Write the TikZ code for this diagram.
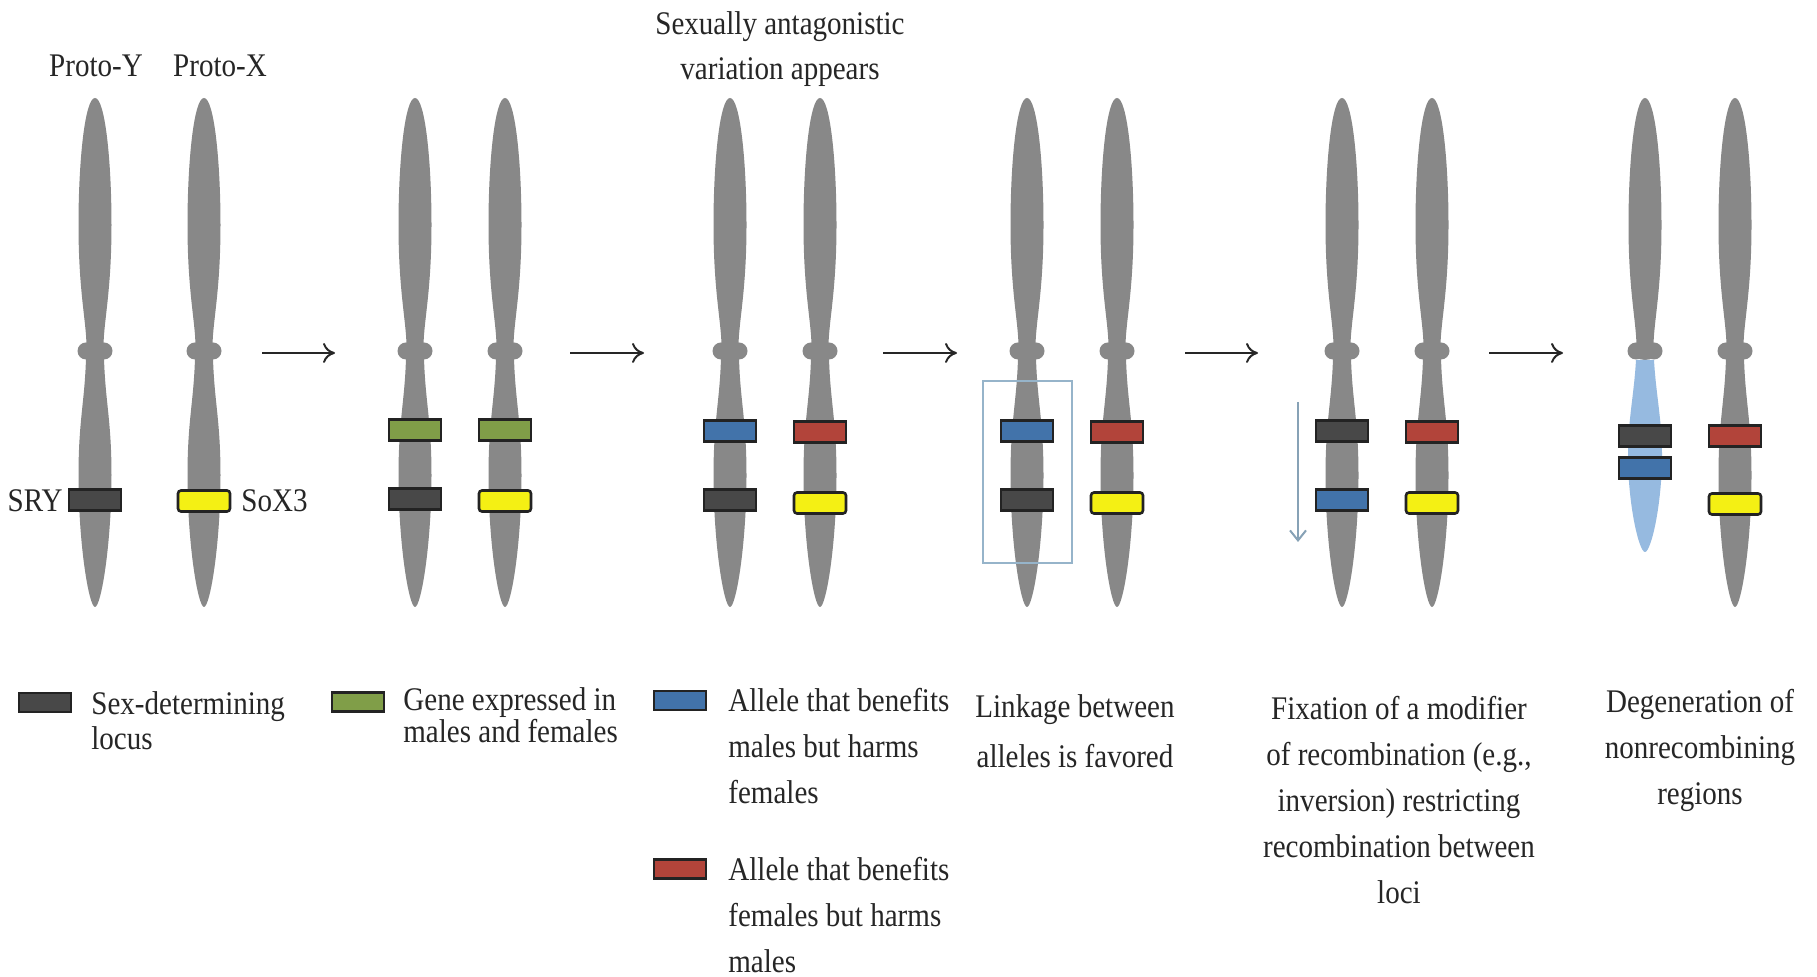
\documentclass[tikz,border=0pt]{standalone}
\usepackage{fontspec}
\setmainfont[FakeStretch=0.88]{Liberation Serif}
\usetikzlibrary{arrows.meta}

\definecolor{chromgray}{RGB}{136,136,136}
\definecolor{locusdark}{RGB}{72,72,72}
\definecolor{edgedark}{RGB}{35,35,35}
\definecolor{allelblue}{RGB}{66,115,170}
\definecolor{allelred}{RGB}{178,68,58}
\definecolor{genegreen}{RGB}{128,158,72}
\definecolor{soxyellow}{RGB}{244,240,20}
\definecolor{degenblue}{RGB}{150,186,224}
\definecolor{linkblue}{RGB}{150,180,202}
\definecolor{txtgray}{RGB}{38,38,38}

\tikzset{
  % upper arm and centromere of a chromosome, centred on x = 0
  pics/chromtop/.style={code={
    \fill[chromgray] (0,98) .. controls (10,98) and (16.5,160) .. (16.5,225)
       .. controls (16.5,290) and (9,320) .. (8.5,345) -- (-8.5,345)
       .. controls (-9,320) and (-16.5,290) .. (-16.5,225)
       .. controls (-16.5,160) and (-10,98) .. (0,98) -- cycle;
    \fill[chromgray] (-9,351) circle[radius=4.25pt] (9,351) circle[radius=4.25pt];
    \fill[chromgray] (0,351) ellipse[x radius=6pt, y radius=4.5pt];
  }},
  % lower arm
  pics/chromlow/.style={code={
    \fill[#1] (9,357) .. controls (10,400) and (16.5,420) .. (16.5,475)
       .. controls (16.5,545) and (6,607) .. (0,607)
       .. controls (-6,607) and (-16.5,545) .. (-16.5,475)
       .. controls (-16.5,420) and (-10,400) .. (-9,357) -- cycle;
  }},
  pics/chromlow/.default=chromgray,
  gene/.style={draw=edgedark, line width=1.3pt, minimum width=26pt,
    minimum height=10.5pt, inner sep=0pt},
  keybox/.style={draw=edgedark, line width=1.1pt, minimum width=26pt,
    minimum height=9.5pt, inner sep=0pt},
  lbl/.style={font=\fontsize{16.5pt}{23pt}\selectfont, text=txtgray, inner sep=0pt},
  steparrow/.style={draw=black!85, line width=1pt, -{To[length=6pt,width=10pt]}},
}

\begin{document}
\begin{tikzpicture}[x=0.5pt,y=-0.5pt]
\fill[white] (0,0) rectangle (1817,977);
\useasboundingbox (0,0) rectangle (1817,977);

% chromosomes
\foreach \cx in {95,204,415,505,730,820,1027,1117,1342,1432,1645,1735}
  \pic at (\cx,0) {chromtop};
\foreach \cx in {95,204,415,505,730,820,1027,1117,1342,1432,1735}
  \pic at (\cx,0) {chromlow};
% degenerated, nonrecombining arm of the Y
\fill[degenblue] (1654,360) .. controls (1656,395) and (1662,420) .. (1662,455)
   .. controls (1662,505) and (1651,552) .. (1645,552)
   .. controls (1639,552) and (1628,505) .. (1628,455)
   .. controls (1628,420) and (1634,395) .. (1636,360) -- cycle;

% labels over the first pair (multi-line nodes are placed by their last baseline)
\node[lbl, anchor=base] (protoY) at (96,77) {Proto-Y};
\node[lbl, anchor=base] (protoX) at (220,77) {Proto-X};
\node[lbl, anchor=base, align=center, font=\fontsize{16.5pt}{22.5pt}\selectfont]
  (savtitle) at (780,80) {Sexually antagonistic\\variation appears};

% stage 1
\node[gene, fill=locusdark] (sry) at (95,500) {};
\node[gene, fill=soxyellow, rounded corners=1.5pt] (sox1) at (204,501) {};
\node[lbl, anchor=base east] (srytxt) at (63,512) {SRY};
\node[lbl, anchor=base west] (soxtxt) at (241,512) {SoX3};

% stage 2
\node[gene, fill=genegreen] (g2a) at (415,430) {};
\node[gene, fill=locusdark] (d2) at (415,499) {};
\node[gene, fill=genegreen] (g2b) at (505,430) {};
\node[gene, fill=soxyellow, rounded corners=1.5pt] (y2) at (505,501) {};

% stage 3
\node[gene, fill=allelblue] (b3) at (730,431) {};
\node[gene, fill=locusdark] (d3) at (730,500) {};
\node[gene, fill=allelred] (r3) at (820,432) {};
\node[gene, fill=soxyellow, rounded corners=1.5pt] (y3) at (820,503) {};

% stage 4
\node[draw=linkblue, line width=1pt, minimum width=44.5pt, minimum height=91pt,
  inner sep=0pt] (linkbox) at (1027.5,472) {};
\node[gene, fill=allelblue] (b4) at (1027,431) {};
\node[gene, fill=locusdark] (d4) at (1027,500) {};
\node[gene, fill=allelred] (r4) at (1117,432) {};
\node[gene, fill=soxyellow, rounded corners=1.5pt] (y4) at (1117,503) {};

% stage 5
\coordinate (invtop) at (1298,402);
\coordinate (invbot) at (1298,542);
\draw[draw=linkblue!90!black, line width=1pt, -{Straight Barb[length=5pt,width=8pt]}]
  (invtop) -- (invbot);
\node[gene, fill=locusdark] (d5) at (1342,431) {};
\node[gene, fill=allelblue] (b5) at (1342,500) {};
\node[gene, fill=allelred] (r5) at (1432,432) {};
\node[gene, fill=soxyellow, rounded corners=1.5pt] (y5) at (1432,503) {};

% stage 6
\node[gene, fill=locusdark] (d6) at (1645,436) {};
\node[gene, fill=allelblue] (b6) at (1645,468) {};
\node[gene, fill=allelred] (r6) at (1735,436) {};
\node[gene, fill=soxyellow, rounded corners=1.5pt] (y6) at (1735,504) {};

% arrows between stages
\coordinate (a1s) at (262,353);  \coordinate (a1e) at (335,353);
\coordinate (a2s) at (570,353);  \coordinate (a2e) at (644,353);
\coordinate (a3s) at (883,353);  \coordinate (a3e) at (957,353);
\coordinate (a4s) at (1185,353); \coordinate (a4e) at (1258,353);
\coordinate (a5s) at (1489,353); \coordinate (a5e) at (1563,353);
\draw[steparrow] (a1s) -- (a1e);
\draw[steparrow] (a2s) -- (a2e);
\draw[steparrow] (a3s) -- (a3e);
\draw[steparrow] (a4s) -- (a4e);
\draw[steparrow] (a5s) -- (a5e);

% key
\node[keybox, fill=locusdark] (k1) at (45,702.5) {};
\node[lbl, anchor=base west, align=left, font=\fontsize{16.5pt}{17.5pt}\selectfont]
  (k1txt) at (91,750) {Sex-determining\\locus};
\node[keybox, fill=genegreen] (k2) at (358,702) {};
\node[lbl, anchor=base west, align=left, font=\fontsize{16.5pt}{16pt}\selectfont]
  (k2txt) at (403,743) {Gene expressed in\\males and females};
\node[keybox, fill=allelblue] (k3) at (680,700.5) {};
\node[lbl, anchor=base west, align=left]
  (k3txt) at (728,804) {Allele that benefits\\males but harms\\females};
\node[keybox, fill=allelred] (k4) at (680,869) {};
\node[lbl, anchor=base west, align=left]
  (k4txt) at (728,973) {Allele that benefits\\females but harms\\males};

% stage captions
\node[lbl, anchor=base, align=center, font=\fontsize{16.5pt}{25pt}\selectfont]
  (cap4) at (1075,768) {Linkage between\\alleles is favored};
\node[lbl, anchor=base, align=center]
  (cap5) at (1399,904) {Fixation of a modifier\\of recombination (e.g.,\\inversion) restricting\\recombination between\\loci};
\node[lbl, anchor=base, align=center]
  (cap6) at (1700,805) {Degeneration of\\nonrecombining\\regions};
\end{tikzpicture}
\end{document}
